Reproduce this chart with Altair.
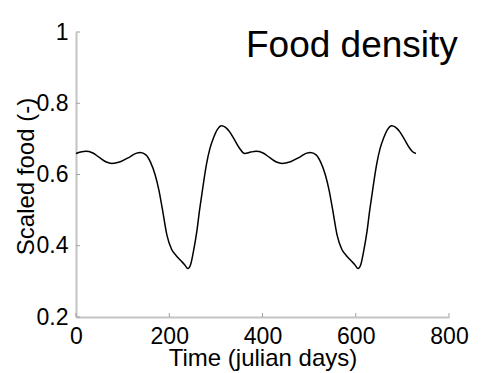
import altair as alt
import pandas as pd

# Time (julian days) and scaled food
days = [0, 10, 21, 35, 50, 65, 77, 95, 115, 130, 138, 150, 160, 170, 178, 185,
        195, 205, 215, 225, 233, 240, 246, 252, 259, 265, 270, 275, 280, 287,
        295, 303, 312, 320, 330, 340, 350, 362,
        375, 386, 400, 415, 430, 442, 460, 480, 495, 503, 515, 525, 535, 543,
        550, 560, 570, 580, 590, 598, 605, 611, 617, 624, 630, 635, 640, 645,
        652, 660, 668, 677, 685, 695, 705, 715, 722, 729]
food = [0.659, 0.663, 0.665, 0.661, 0.648, 0.635, 0.631, 0.636, 0.649, 0.660,
        0.662, 0.655, 0.634, 0.598, 0.555, 0.505, 0.430, 0.390, 0.372, 0.358,
        0.347, 0.336, 0.348, 0.385, 0.439, 0.500, 0.545, 0.590, 0.630, 0.672,
        0.703, 0.726, 0.737, 0.733, 0.719, 0.697, 0.675, 0.659,
        0.663, 0.665, 0.661, 0.648, 0.635, 0.631, 0.636, 0.649, 0.660, 0.662,
        0.655, 0.634, 0.598, 0.555, 0.505, 0.430, 0.390, 0.372, 0.358, 0.347,
        0.336, 0.348, 0.385, 0.439, 0.500, 0.545, 0.590, 0.630, 0.672, 0.703,
        0.726, 0.737, 0.733, 0.719, 0.697, 0.675, 0.664, 0.659]

x_ticks = [0, 200, 400, 600, 800]
y_ticks = [0.2, 0.4, 0.6, 0.8, 1.0]
chart_title = "Food density"

df = pd.DataFrame({"t": days, "f": food})
xt = pd.DataFrame({"t": x_ticks})
yt = pd.DataFrame({"f": y_ticks})

FONT = "Liberation Sans"
W, H = 373, 285

xscale = alt.Scale(domain=[0, 800], nice=False, zero=False)
yscale = alt.Scale(domain=[0.2, 1.0], nice=False, zero=False)

axis_common = dict(
    domainColor="#c4c4c4", domainWidth=2, ticks=False, grid=False,
    labelFont=FONT, labelFontSize=23, labelColor="black", labelPadding=8,
    titleFont=FONT, titleFontSize=24, titleColor="black", titleFontWeight="normal",
    labelOverlap=False, labelFlush=False,
)

line = alt.Chart(df).mark_line(color="black", strokeWidth=1.5, interpolate="monotone").encode(
    x=alt.X("t:Q", scale=xscale,
            axis=alt.Axis(values=x_ticks, title="Time (julian days)",
                          titleX=186.5, titleY=48, titleBaseline="alphabetic",
                          titleAlign="center", **axis_common)),
    y=alt.Y("f:Q", scale=yscale,
            axis=alt.Axis(values=y_ticks, format="~g", title="Scaled food (-)",
                          titleX=-43, titleY=144, titleAngle=270,
                          titleBaseline="alphabetic", titleAlign="center",
                          **axis_common)),
)

xtick_marks = alt.Chart(xt).mark_rule(color="#a0a0a0", strokeWidth=1).encode(
    x=alt.X("t:Q", scale=xscale), y=alt.value(H), y2=alt.value(H - 4)
)
ytick_marks = alt.Chart(yt).mark_rule(color="#a0a0a0", strokeWidth=1).encode(
    y=alt.Y("f:Q", scale=yscale), x=alt.value(0), x2=alt.value(4)
)

title_text = alt.Chart(pd.DataFrame({"label": [chart_title]})).mark_text(
    font=FONT, fontSize=37, color="black", align="left", baseline="alphabetic"
).encode(text="label:N", x=alt.value(170), y=alt.value(25))

chart = alt.layer(line, xtick_marks, ytick_marks, title_text).properties(
    width=W, height=H,
    autosize=alt.AutoSizeParams(type="none"),
    padding={"left": 68, "top": 24, "right": 34, "bottom": 60},
    background="white",
).configure_view(stroke=None)

chart.save("out.html", embed_options={"renderer": "svg", "actions": False})
